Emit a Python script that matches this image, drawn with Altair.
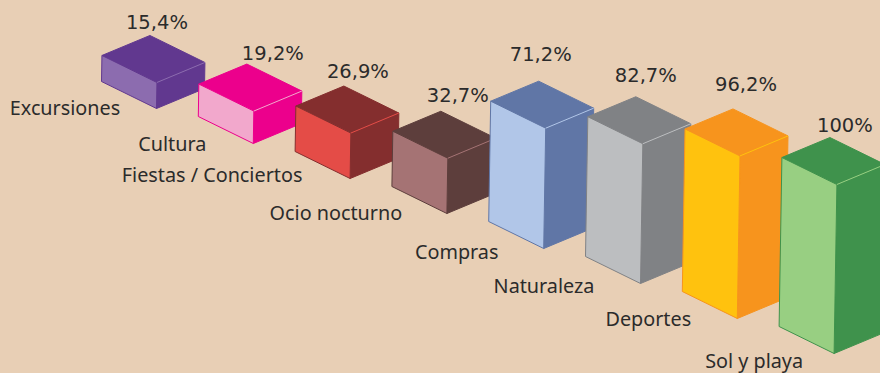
import altair as alt
import pandas as pd

categories = ["Excursiones", "Cultura", "Fiestas / Conciertos", "Ocio nocturno",
              "Compras", "Naturaleza", "Deportes", "Sol y playa"]
values = [15.4, 19.2, 26.9, 32.7, 71.2, 82.7, 96.2, 100]
value_labels = ["15,4%", "19,2%", "26,9%", "32,7%", "71,2%", "82,7%", "96,2%", "100%"]
side_colors = ["#61388F", "#EC008C", "#842E2E", "#5D3E3C", "#6076A6", "#808285", "#F7941D", "#3F924C"]
front_colors = ["#8C6CAF", "#F2A8CC", "#E44C47", "#A57374", "#B1C6E8", "#BCBEC0", "#FFC20E", "#98CF82"]

# layout (offsets of text from the bar corners, oblique projection constants)
W, H = 880, 373
BG = "#E8CFB5"
TEXT = "#2B2B2B"
value_offsets = [(7, -12.5), (26, -10), (14, -14), (17, -15), (2, -26), (10, -21), (13, -24), (15, -12)]
name_offsets = [(-36.5, 27), (-26, 28), (-83, 24), (-56, 27), (-32, 31), (-41.5, 30), (-34, 28), (-25, 35.5)]
X0, Y0, STEP_X, STEP_Y = 101.5, 81.5, 96.8, 35.0
PX_PER_PCT = 1.69
LEAN = 0.028
FX, FY = 55, 27
SX, SY = 48, -20

x_scale = alt.Scale(domain=[0, W], range=[0, W], nice=False, zero=False)
y_scale = alt.Scale(domain=[0, H], range=[0, H], nice=False, zero=False)


def poly(points, fill, stroke, width=1.0):
    df = pd.DataFrame(points, columns=["x", "y"])
    df["o"] = range(len(df))
    return alt.Chart(df).mark_line(
        interpolate="linear-closed", fill=fill, stroke=stroke, strokeWidth=width,
        clip=True, strokeJoin="round",
    ).encode(
        x=alt.X("x:Q", scale=x_scale, axis=None),
        y=alt.Y("y:Q", scale=y_scale, axis=None),
        order="o:Q",
    )


def edge(points, stroke):
    df = pd.DataFrame(points, columns=["x", "y"])
    df["o"] = range(len(df))
    return alt.Chart(df).mark_line(stroke=stroke, strokeWidth=1, clip=True).encode(
        x=alt.X("x:Q", scale=x_scale, axis=None),
        y=alt.Y("y:Q", scale=y_scale, axis=None),
        order="o:Q",
    )


def label(text, x, y, dx, dy, font, size):
    df = pd.DataFrame({"x": [x], "y": [y], "t": [text]})
    return alt.Chart(df).mark_text(
        font=font, fontSize=size, color=TEXT, dx=dx, dy=dy, align="center", baseline="middle",
    ).encode(
        x=alt.X("x:Q", scale=x_scale, axis=None),
        y=alt.Y("y:Q", scale=y_scale, axis=None),
        text="t:N",
    )


layers = []
texts = []
for i, v in enumerate(values):
    bx = X0 + STEP_X * i
    by = Y0 + STEP_Y * i
    h = v * PX_PER_PCT
    lean = v * LEAN
    tx, ty = bx + lean, by - h
    bl = (bx, by)
    bf = (bx + FX, by + FY)
    br = (bx + FX + SX, by + FY + SY)
    tl = (tx, ty)
    tf = (tx + FX, ty + FY)
    tr = (tx + FX + SX, ty + FY + SY)
    tb = (tx + SX, ty + SY)
    side, front = side_colors[i], front_colors[i]
    layers.append(poly([tf, tr, br, bf], side, side))
    layers.append(poly([tl, tb, tr, tf], side, side))
    layers.append(poly([tl, tf, bf, bl], front, side))
    layers.append(edge([tf, tr], front))
    texts.append(label(value_labels[i], tb[0], tb[1], *value_offsets[i], "DejaVu Sans", 19.5))
    texts.append(label(categories[i], bl[0], bl[1], *name_offsets[i], "Noto Sans", 19.8))

chart = alt.layer(*layers, *texts).properties(
    width=W, height=H, padding=0, background=BG,
    autosize=alt.AutoSizeParams(type="none"),
).configure_view(stroke=None)

chart.save("out.html", embed_options={"renderer": "svg", "actions": False,
                                      "defaultStyle": "html,body{margin:0;background:%s;overflow:hidden}" % BG})
